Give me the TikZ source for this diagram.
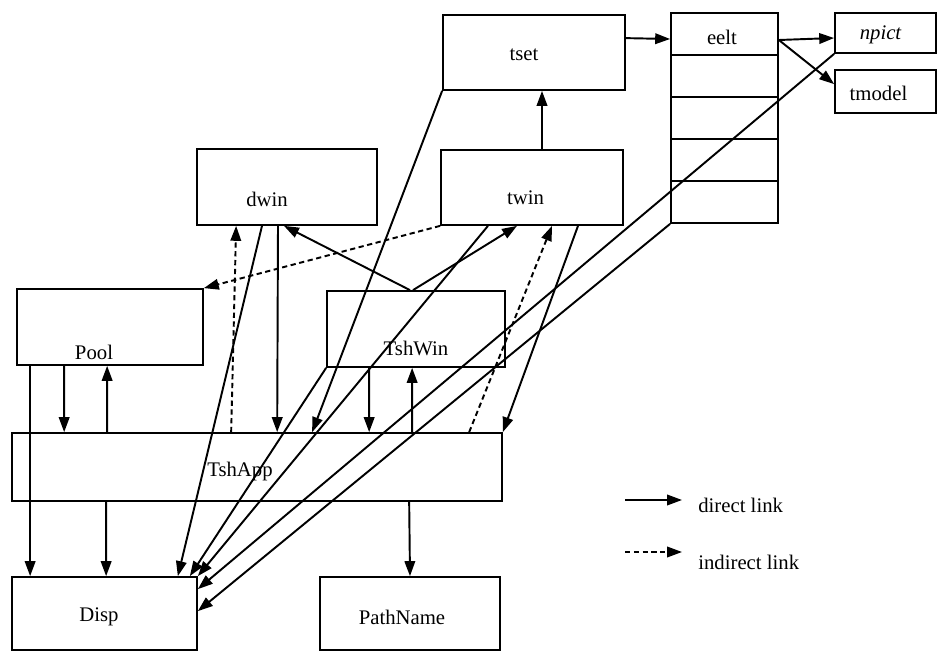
\documentclass[tikz,border=0pt]{standalone}
\usepackage{fontspec}
\setmainfont{Liberation Serif}
\usetikzlibrary{calc,arrows.meta}
\newcommand\diagfont{\fontsize{11.8pt}{13pt}\selectfont}
\tikzset{
  box/.style={draw, line width=1pt, inner sep=0pt},
  lk/.style={line width=1.1pt, -{Triangle[length=8.5pt,width=6pt]}},
  ilk/.style={lk, dash pattern=on 3pt off 2pt},
}
\begin{document}
\begin{tikzpicture}[x=0.02cm, y=-0.02cm, font=\diagfont]
\useasboundingbox (0,0) rectangle (938,652);

% classes
\node[box, minimum width=3.64cm, minimum height=1.5cm,
      label={[xshift=-0.2cm,yshift=-0.05cm]center:tset}] (tset) at (534,52.5) {};
\node[box, minimum width=3.64cm, minimum height=1.5cm,
      label={[xshift=-0.13cm,yshift=-0.21cm]center:twin}] (twin) at (532,187.5) {};
\node[box, minimum width=3.6cm, minimum height=1.52cm,
      label={[xshift=-0.4cm,yshift=-0.24cm]center:dwin}] (dwin) at (287,187) {};
\node[box, minimum width=3.72cm, minimum height=1.52cm,
      label={[xshift=-0.32cm,yshift=-0.5cm]center:Pool}] (Pool) at (110,327) {};
\node[box, minimum width=3.56cm, minimum height=1.52cm,
      label={[yshift=-0.38cm]center:TshWin}] (TshWin) at (416,329) {};
\node[box, minimum width=9.8cm, minimum height=1.36cm,
      label={[xshift=-0.34cm,yshift=-0.1cm]center:TshApp}] (TshApp) at (257,467) {};
\node[box, minimum width=3.7cm, minimum height=1.46cm,
      label={[xshift=-0.11cm,yshift=-0.07cm]center:Disp}] (Disp) at (104.5,613.5) {};
\node[box, minimum width=3.6cm, minimum height=1.46cm,
      label={[xshift=-0.16cm,yshift=-0.07cm]center:PathName}] (PathName) at (410,613.5) {};

% element table: five rows of equal height
\node[box, minimum width=2.14cm, minimum height=0.84cm,
      label={[xshift=-0.05cm,yshift=-0.06cm]center:eelt}] (e1) at (724.5,34) {};
\node[box, minimum width=2.14cm, minimum height=0.84cm] (e2) at (724.5,76) {};
\node[box, minimum width=2.14cm, minimum height=0.84cm] (e3) at (724.5,118) {};
\node[box, minimum width=2.14cm, minimum height=0.84cm] (e4) at (724.5,160) {};
\node[box, minimum width=2.14cm, minimum height=0.84cm] (e5) at (724.5,202) {};

\node[box, minimum width=2.02cm, minimum height=0.8cm,
      label={[xshift=-0.1cm,yshift=-0.04cm,font={\diagfont\itshape}]center:npict}] (npict) at (885.5,33) {};
\node[box, minimum width=2.02cm, minimum height=0.86cm,
      label={[xshift=-0.14cm,yshift=-0.03cm]center:tmodel}] (tmodel) at (885.5,91.5) {};

% direct links
\draw[lk] ($(tset.north east)+(0,24)$) -- ($(e1.west)+(0,5)$);
\draw[lk] ($(e1.east)+(0,6)$) -- ($(npict.west)+(0,5)$);
\draw[lk] ($(e1.east)+(0,6)$) -- ($(tmodel.north west)+(0,15)$);
\draw[lk] ($(twin.north)+(10,0)$) -- ($(tset.south)+(8,0)$);
\draw[lk] ($(TshWin.north)+(-6,0)$) -- ($(dwin.south)+(-3,0)$);
\draw[lk] ($(TshWin.north)+(-3,0)$) -- ($(twin.south)+(-15,0)$);
\draw[lk] ($(dwin.south)+(-9,0)$) -- ($(TshApp.north west)+(266,0)$);
\draw[lk] (tset.south west) -- ($(TshApp.north west)+(301,0)$);
\draw[lk] ($(twin.south)+(46,0)$) -- (TshApp.north east);

\draw[lk] ($(dwin.south)+(-25,0)$) -- ($(Disp.north east)+(-20,0)$);
\draw[lk] (TshWin.south west) -- ($(Disp.north east)+(-8,0)$);
\draw[lk] ($(twin.south)+(-44,0)$) -- (Disp.north east);
\draw[lk] (npict.south west) -- ($(Disp.north east)+(0,13)$);
\draw[lk] (e5.south west) -- ($(Disp.north east)+(0,35)$);

\draw[lk] ($(Pool.south west)+(14,0)$) -- ($(Disp.north west)+(19,0)$);
\draw[lk] ($(Pool.south west)+(48,0)$) -- ($(TshApp.north west)+(53,0)$);
\draw[lk] ($(TshApp.north west)+(96,0)$) -- ($(Pool.south west)+(91,0)$);
\draw[lk] ($(TshWin.south west)+(43,0)$) -- ($(TshApp.north west)+(358,0)$);
\draw[lk] ($(TshApp.north west)+(401,0)$) -- ($(TshWin.south west)+(86,0)$);
\draw[lk] ($(TshApp.south west)+(95,0)$) -- ($(Disp.north west)+(95,0)$);
\draw[lk] ($(TshApp.south west)+(398,0)$) -- (PathName.north);

% indirect links
\draw[ilk] ($(TshApp.north west)+(220,0)$) -- ($(dwin.south west)+(40,0)$);
\draw[ilk] (twin.south west) -- (Pool.north east);
\draw[ilk] ($(TshApp.north west)+(458,0)$) -- ($(twin.south)+(20,0)$);

% legend
\coordinate (d0) at (625,500);
\coordinate (d1) at (682,500);
\coordinate (i0) at (625,552);
\coordinate (i1) at (682,552);
\draw[lk] (d0) -- (d1);
\draw[ilk] (i0) -- (i1);
\node[anchor=west, inner sep=0pt] (dtxt) at (698,505) {direct link};
\node[anchor=west, inner sep=0pt] (itxt) at (698,562) {indirect link};
\end{tikzpicture}
\end{document}
